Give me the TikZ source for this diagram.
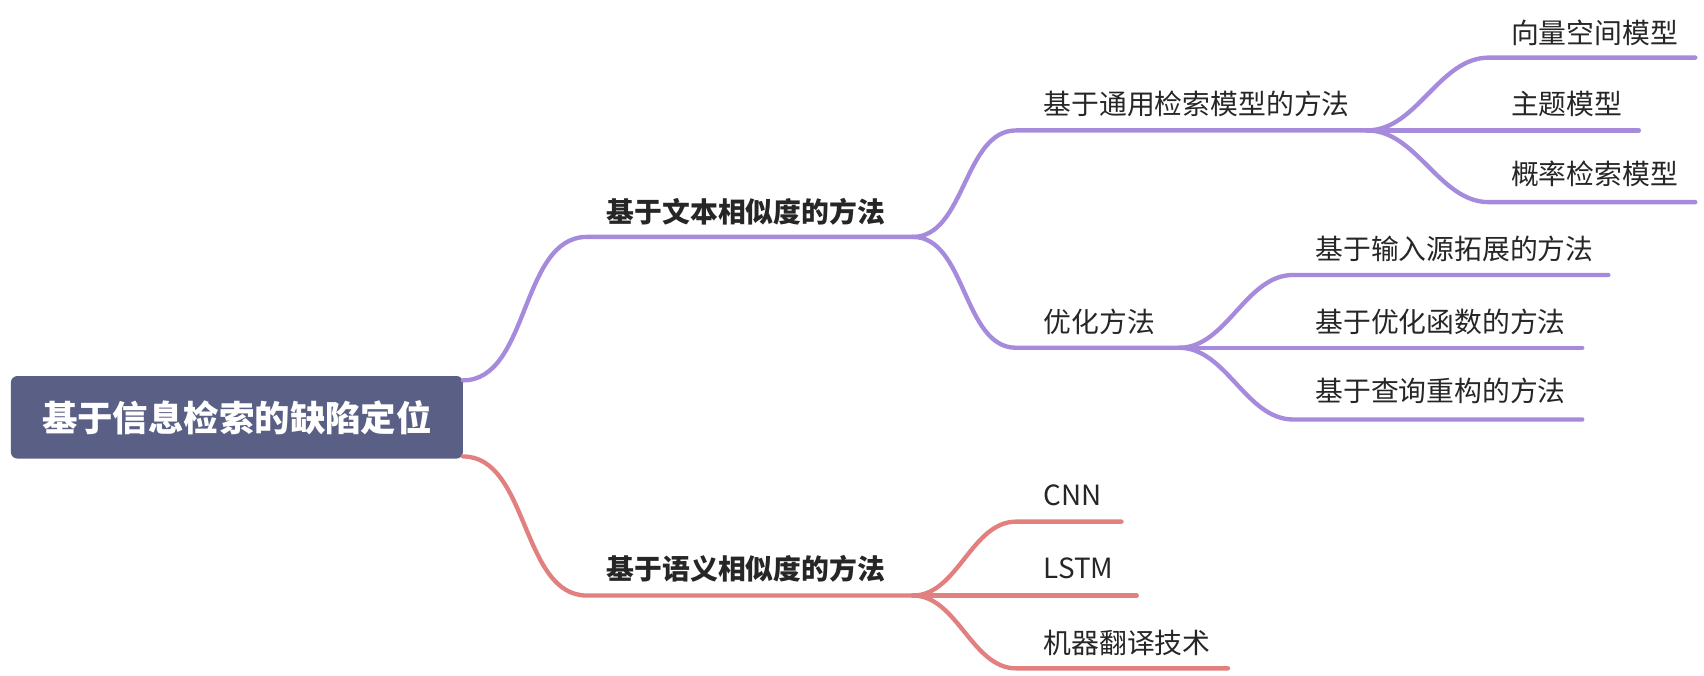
\documentclass[tikz,border=0pt]{standalone}
\usepackage{fontspec}
\setmainfont{Noto Sans CJK SC}
\begin{document}
\begin{tikzpicture}[x=0.5pt,y=-0.5pt,
  lbl/.style={anchor=west,inner sep=0pt,font=\fontsize{12.8}{15}\selectfont,text=black!85},
  blbl/.style={lbl,font=\fontsize{12.8}{15}\selectfont\bfseries},
  cv/.style={out=0,in=180,looseness=0.9}]
\definecolor{pc}{HTML}{A68BDD}
\definecolor{rc}{HTML}{E2807F}
\definecolor{rootc}{HTML}{5A5F86}
\tikzset{pb/.style={draw=pc,line width=2pt,line cap=round},rb/.style={draw=rc,line width=2pt,line cap=round}}
\useasboundingbox (0,0) rectangle (1568,622);
% root
\node[fill=rootc,rounded corners=3pt,minimum width=208pt,minimum height=38pt,text=white,font=\fontsize{16.3}{19}\selectfont\bfseries] (root) at (218,384) {基于信息检索的缺陷定位};
\coordinate (r1) at (426,350);
\coordinate (r2) at (426,420);
% level 1
\coordinate (a0) at (540,218); \coordinate (a1) at (840,218);
\coordinate (b0) at (540,548); \coordinate (b1) at (840,548);
\node[blbl] (A) at (558,195) {基于文本相似度的方法};
\node[blbl] (B) at (558,523) {基于语义相似度的方法};
\draw[pb] (r1) to[cv] (a0) -- (a1);
\draw[rb] (r2) to[cv] (b0) -- (b1);
% level 2 purple
\coordinate (c0) at (935,120); \coordinate (c1) at (1258,120);
\coordinate (d0) at (935,320); \coordinate (d1) at (1085,320);
\node[lbl] (C) at (960,96) {基于通用检索模型的方法};
\node[lbl] (D) at (960,296) {优化方法};
\draw[pb] (a1) to[cv] (c0) -- (c1);
\draw[pb] (a1) to[cv] (d0) -- (d1);
% level 3 under C
\coordinate (e0) at (1370,53); \coordinate (e1) at (1560,53);
\coordinate (f0) at (1370,120); \coordinate (f1) at (1508,120);
\coordinate (g0) at (1370,186); \coordinate (g1) at (1560,186);
\node[lbl] (E) at (1390,30) {向量空间模型};
\node[lbl] (F) at (1390,96) {主题模型};
\node[lbl] (G) at (1390,160) {概率检索模型};
\draw[pb] (c1) to[cv] (e0) -- (e1);
\draw[pb] (c1) -- (f0) -- (f1);
\draw[pb] (c1) to[cv] (g0) -- (g1);
% level 3 under D
\coordinate (h0) at (1190,253); \coordinate (h1) at (1480,253);
\coordinate (i0) at (1190,320); \coordinate (i1) at (1456,320);
\coordinate (j0) at (1190,386); \coordinate (j1) at (1456,386);
\node[lbl] (H) at (1210,229) {基于输入源拓展的方法};
\node[lbl] (I) at (1210,296) {基于优化函数的方法};
\node[lbl] (J) at (1210,360) {基于查询重构的方法};
\draw[pb] (d1) to[cv] (h0) -- (h1);
\draw[pb] (d1) -- (i0) -- (i1);
\draw[pb] (d1) to[cv] (j0) -- (j1);
% level 2 red
\coordinate (k0) at (935,480); \coordinate (k1) at (1032,480);
\coordinate (l0) at (935,548); \coordinate (l1) at (1046,548);
\coordinate (m0) at (935,615); \coordinate (m1) at (1130,615);
\node[lbl] (K) at (960,456) {CNN};
\node[lbl] (L) at (960,523) {LSTM};
\node[lbl] (M) at (960,592) {机器翻译技术};
\draw[rb] (b1) to[cv] (k0) -- (k1);
\draw[rb] (b1) -- (l0) -- (l1);
\draw[rb] (b1) to[cv] (m0) -- (m1);
\end{tikzpicture}
\end{document}
